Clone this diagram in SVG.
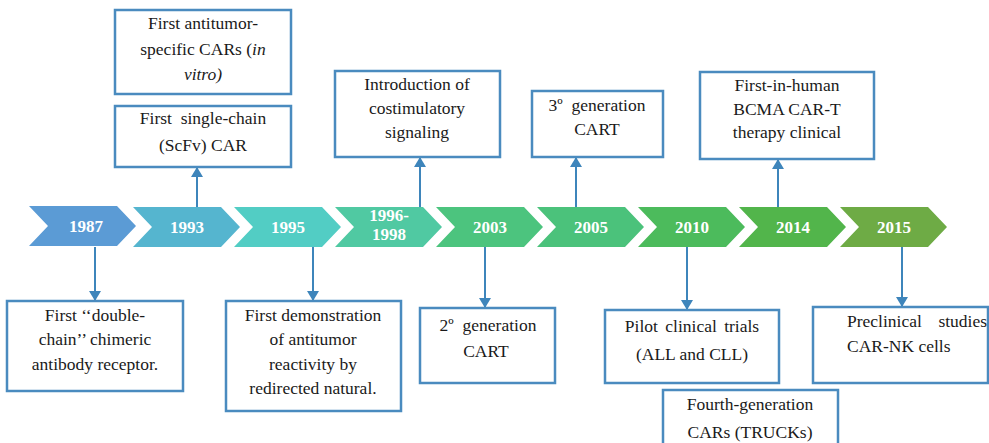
<svg xmlns="http://www.w3.org/2000/svg" width="989" height="443" viewBox="0 0 989 443">
<style>
.box{fill:#fff;stroke:#4A8BBF;stroke-width:2.5}
.t{font-family:"Liberation Serif",serif;font-size:17.5px;fill:#1a1a1a;text-anchor:middle}
.s{text-anchor:start}
.e{text-anchor:end}
.y{font-family:"Liberation Serif",serif;font-size:17px;font-weight:bold;fill:#fff;text-anchor:middle}
.c{stroke:#3E85BB;stroke-width:2;fill:none;marker-end:url(#ah)}
</style>
<defs>
<marker id="ah" viewBox="0 0 10 12" refX="10" refY="6" markerWidth="10" markerHeight="12" markerUnits="userSpaceOnUse" orient="auto">
<path d="M0,0 L10,6 L0,12 z" fill="#3E85BB"/>
</marker>
<path id="chev" d="M0,0 H88 L107,20 L88,40 H0 L19,20 Z"/>
</defs>

<g id="timeline">
<g id="y1987"><use href="#chev" x="29" y="206" fill="#5B9BD5"/><text class="y" x="86" y="232">1987</text></g>
<g id="y1993"><use href="#chev" x="133" y="207" fill="#55B5CF"/><text class="y" x="187" y="233">1993</text></g>
<g id="y1995"><use href="#chev" x="234" y="207" fill="#52CDC4"/><text class="y" x="288" y="233">1995</text></g>
<g id="y1996"><use href="#chev" x="335" y="207" fill="#50C9A2"/><text class="y" x="389" y="221">1996-</text><text class="y" x="389" y="240">1998</text></g>
<g id="y2003"><use href="#chev" x="436" y="207" fill="#4CC47E"/><text class="y" x="490" y="233">2003</text></g>
<g id="y2005"><use href="#chev" x="537" y="207" fill="#4BC27B"/><text class="y" x="591" y="233">2005</text></g>
<g id="y2010"><use href="#chev" x="638" y="207" fill="#4CBB5C"/><text class="y" x="692" y="233">2010</text></g>
<g id="y2014"><use href="#chev" x="739" y="207" fill="#52B54B"/><text class="y" x="793" y="233">2014</text></g>
<g id="y2015"><use href="#chev" x="840" y="207" fill="#6EAB45"/><text class="y" x="894" y="233">2015</text></g>
</g>

<g id="connectors">
<line class="c" x1="95" y1="247" x2="95" y2="301"/>
<line class="c" x1="197" y1="207" x2="197" y2="167"/>
<line class="c" x1="313" y1="247" x2="313" y2="301"/>
<line class="c" x1="420" y1="207" x2="420" y2="157"/>
<line class="c" x1="485" y1="247" x2="485" y2="308"/>
<line class="c" x1="576" y1="207" x2="576" y2="157"/>
<line class="c" x1="687" y1="247" x2="687" y2="310"/>
<line class="c" x1="778" y1="207" x2="778" y2="159"/>
<line class="c" x1="902" y1="247" x2="902" y2="307"/>
</g>

<g id="n-antitumor">
<rect class="box" x="115" y="10" width="176" height="84"/>
<text class="t" x="203" y="29">First antitumor-</text>
<text class="t" x="203" y="55">specific CARs (<tspan font-style="italic">in</tspan></text>
<text class="t" x="203" y="80" font-style="italic">vitro)</text>
</g>
<g id="n-scfv">
<rect class="box" x="115" y="106" width="176" height="61"/>
<text class="t" x="203" y="124" xml:space="preserve">First  single-chain</text>
<text class="t" x="203" y="151">(ScFv) CAR</text>
</g>
<g id="n-costim">
<rect class="box" x="335" y="71" width="165" height="86"/>
<text class="t" x="417" y="90">Introduction of</text>
<text class="t" x="417" y="114">costimulatory</text>
<text class="t" x="417" y="138">signaling</text>
</g>
<g id="n-3gen">
<rect class="box" x="532" y="91" width="131" height="66"/>
<text class="t" x="597" y="111" xml:space="preserve">3º  generation</text>
<text class="t" x="597" y="135">CART</text>
</g>
<g id="n-bcma">
<rect class="box" x="700" y="72" width="174" height="87"/>
<text class="t" x="787" y="91">First-in-human</text>
<text class="t" x="787" y="115">BCMA CAR-T</text>
<text class="t" x="787" y="138">therapy clinical</text>
</g>
<g id="n-double">
<rect class="box" x="7" y="301" width="176" height="90"/>
<text class="t" x="95" y="321">First ‘‘double-</text>
<text class="t" x="95" y="345">chain’’ chimeric</text>
<text class="t" x="95" y="370">antibody receptor.</text>
</g>
<g id="n-demo">
<rect class="box" x="226" y="301" width="175" height="110"/>
<text class="t" x="313" y="321">First demonstration</text>
<text class="t" x="313" y="345">of antitumor</text>
<text class="t" x="313" y="370">reactivity by</text>
<text class="t" x="313" y="394">redirected natural.</text>
</g>
<g id="n-2gen">
<rect class="box" x="420" y="308" width="135" height="75"/>
<text class="t" x="488" y="331" xml:space="preserve">2º  generation</text>
<text class="t" x="486" y="357">CART</text>
</g>
<g id="n-pilot">
<rect class="box" x="605" y="310" width="174" height="73"/>
<text class="t" x="692" y="332" word-spacing="3">Pilot clinical trials</text>
<text class="t" x="692" y="360">(ALL and CLL)</text>
</g>
<g id="n-fourth">
<rect class="box" x="663" y="390" width="175" height="60"/>
<text class="t" x="750" y="410">Fourth-generation</text>
<text class="t" x="750" y="438">CARs (TRUCKs)</text>
</g>
<g id="n-nk">
<rect class="box" x="813" y="307" width="175" height="76"/>
<text class="t s" x="847" y="327">Preclinical</text>
<text class="t e" x="987" y="327">studies</text>
<text class="t s" x="847" y="352">CAR-NK cells</text>
</g>
</svg>
